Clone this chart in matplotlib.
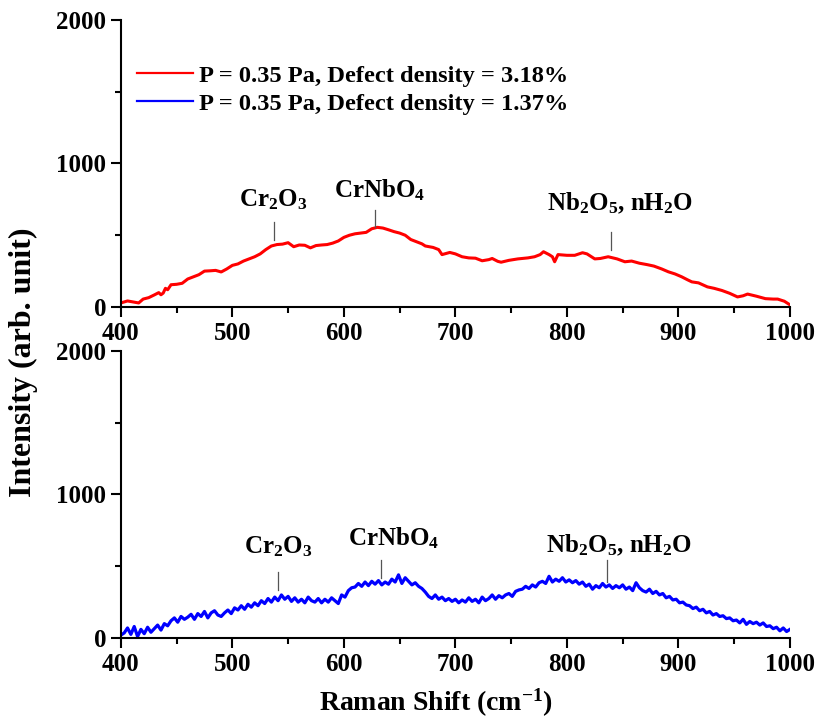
import numpy as np
import matplotlib
matplotlib.use('Agg')
import matplotlib.pyplot as plt
from matplotlib.ticker import MultipleLocator
from matplotlib.lines import Line2D

# red spectrum (3.18 %)
red_x = [400, 406, 411, 416, 420, 425, 430, 434, 436, 438, 440, 442, 445, 450, 455,
         460, 465, 470, 475, 480, 485, 490, 495, 500, 505, 510, 515, 520, 525, 530,
         535, 540, 545, 550, 555, 560, 565, 570, 575, 580, 585, 590, 595, 600, 605,
         610, 615, 620, 625, 630, 635, 640, 645, 650, 655, 660, 665, 670, 673, 680,
         685, 688, 695, 700, 706, 712, 718, 724, 730, 733, 738, 741, 748, 756, 765,
         771, 776, 779, 784, 787, 789, 792, 800, 807, 814, 818, 825, 830, 837, 845,
         852, 858, 865, 872, 878, 885, 891, 897, 903, 908, 912, 918, 926, 932, 939,
         946, 953, 958, 962, 970, 978, 985, 989, 995, 1000]
red_y = [28, 42, 35, 28, 55, 65, 84, 100, 85, 97, 130, 120, 155, 158, 165,
         195, 210, 225, 250, 252, 255, 244, 265, 290, 300, 320, 335, 350, 370, 400,
         425, 435, 438, 448, 420, 432, 430, 412, 428, 432, 435, 445, 460, 485, 500,
         510, 515, 520, 545, 555, 550, 538, 525, 515, 500, 470, 455, 440, 425, 415,
         400, 365, 380, 370, 350, 342, 340, 322, 330, 338, 318, 312, 325, 335, 342,
         350, 365, 385, 365, 350, 315, 365, 360, 360, 378, 370, 335, 338, 350, 335,
         315, 320, 305, 295, 285, 265, 245, 230, 210, 190, 175, 168, 140, 130, 115,
         95, 70, 78, 90, 75, 58, 55, 55, 40, 15]

# blue spectrum (1.37 %), every 3 cm-1 from 400 to 1000
blue_x = np.linspace(400, 1000, 201)
blue_y = [20, 35, 70, 25, 80, 10, 60, 30, 75, 40,
          65, 90, 55, 100, 85, 120, 140, 110, 150, 130,
          145, 165, 130, 170, 150, 185, 140, 175, 190, 160,
          150, 175, 195, 170, 210, 195, 225, 200, 235, 215,
          245, 225, 260, 240, 275, 250, 285, 260, 300, 270,
          290, 255, 280, 250, 270, 245, 285, 260, 250, 275,
          245, 270, 250, 280, 260, 240, 300, 285, 330, 350,
          355, 380, 360, 390, 365, 395, 375, 400, 370, 390,
          375, 410, 390, 440, 380, 420, 395, 370, 385, 360,
          345, 320, 290, 275, 300, 270, 285, 260, 275, 255,
          270, 245, 265, 250, 280, 255, 270, 245, 285, 260,
          275, 300, 270, 295, 280, 300, 310, 290, 325, 335,
          340, 360, 345, 370, 355, 385, 395, 380, 430, 390,
          410, 395, 420, 390, 405, 385, 400, 375, 390, 360,
          375, 340, 365, 350, 380, 355, 370, 345, 365, 350,
          370, 340, 355, 330, 385, 350, 330, 320, 340, 310,
          325, 300, 310, 280, 290, 265, 270, 245, 250, 230,
          225, 205, 215, 190, 200, 175, 185, 160, 170, 150,
          155, 135, 140, 120, 125, 105, 130, 95, 115, 100,
          110, 90, 105, 80, 85, 65, 75, 50, 70, 45,
          60]

labels = ['P = 0.35 Pa, Defect density = 3.18%',
          'P = 0.35 Pa, Defect density = 1.37%']

# peak marks: (text, line x, line bottom, line top, text x, text y)
top_peaks = [(r'Cr$_2$O$_3$', 537, 467, 592, 537, 745),
             (r'CrNbO$_4$', 628, 557, 676, 632, 815),
             (r'Nb$_2$O$_5$, nH$_2$O', 839.5, 397, 523, 848, 725)]
bot_peaks = [(r'Cr$_2$O$_3$', 541, 334, 460, 541, 634),
             (r'CrNbO$_4$', 633, 418, 544, 645, 697),
             (r'Nb$_2$O$_5$, nH$_2$O', 836, 390, 544, 847, 648)]

plt.rcParams['font.family'] = ['Liberation Serif', 'DejaVu Serif']
plt.rcParams['font.weight'] = 'bold'
plt.rcParams['mathtext.fontset'] = 'custom'
plt.rcParams['mathtext.rm'] = 'Liberation Serif:bold'
plt.rcParams['mathtext.bf'] = 'Liberation Serif:bold'
plt.rcParams['mathtext.it'] = 'Liberation Serif:bold'

fig = plt.figure(figsize=(8.22, 7.24), dpi=100)
ax1 = fig.add_axes([0.147, 0.576, 0.814, 0.3964])
ax2 = fig.add_axes([0.147, 0.1188, 0.814, 0.3964])

ax1.plot(red_x, red_y, color='#ff0000', lw=2.2)
ax2.plot(blue_x, blue_y, color='#0000ff', lw=2.3)

for ax, peaks in [(ax1, top_peaks), (ax2, bot_peaks)]:
    ax.set_xlim(400, 1000)
    ax.set_ylim(0, 2000)
    for s in ['top', 'right']:
        ax.spines[s].set_visible(False)
    for s in ['left', 'bottom']:
        ax.spines[s].set_linewidth(1.5)
    ax.xaxis.set_major_locator(MultipleLocator(100))
    ax.xaxis.set_minor_locator(MultipleLocator(50))
    ax.yaxis.set_major_locator(MultipleLocator(1000))
    ax.yaxis.set_minor_locator(MultipleLocator(500))
    ax.tick_params(which='major', direction='out', length=7, width=1.5, labelsize=18)
    ax.tick_params(which='minor', direction='out', length=4, width=1.5)
    for lab in ax.get_xticklabels() + ax.get_yticklabels():
        lab.set_fontweight('bold')
    for txt, lx, y0, y1, tx, ty in peaks:
        ax.plot([lx, lx], [y0, y1], color='#555555', lw=0.9)
        ax.text(tx, ty, txt, fontsize=18, ha='center', va='center')

handles = [Line2D([], [], color='#ff0000', lw=1.6),
           Line2D([], [], color='#0000ff', lw=1.6)]
ax1.legend(handles, labels, loc='upper left', bbox_to_anchor=(0.024, 0.845),
           frameon=False, fontsize=17.6, handlelength=2.3, handletextpad=0.25,
           labelspacing=0.24, borderpad=0, borderaxespad=0)

fig.text(0.029, 0.499, 'Intensity (arb. unit)', rotation=90, ha='center', va='center',
         fontsize=23, fontweight='bold')
fig.text(0.53, 0.029, r'Raman Shift (cm$^{-1}$)', ha='center', va='center',
         fontsize=20, fontweight='bold')

fig.savefig('out.png', dpi=100)
